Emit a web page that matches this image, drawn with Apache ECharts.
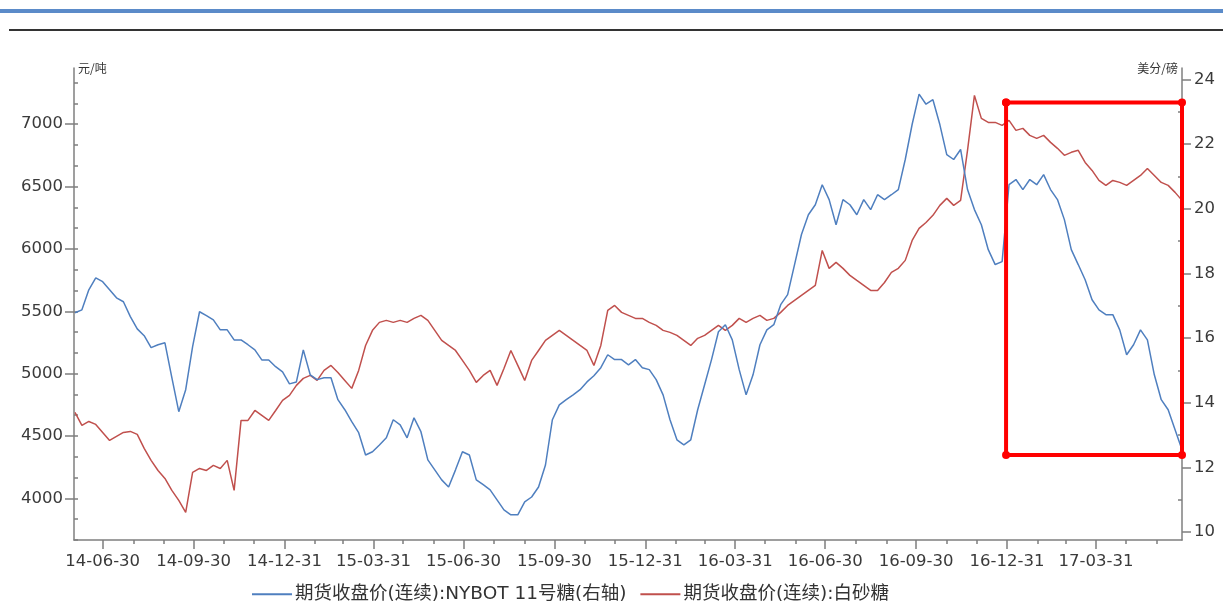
<!DOCTYPE html>
<html>
<head>
<meta charset="utf-8">
<script src="https://cdn.jsdelivr.net/npm/echarts@6/dist/echarts.min.js"></script>
<style>
  html, body { margin: 0; padding: 0; background: #fff; }
  #page { position: relative; width: 1223px; height: 609px; overflow: hidden; }
  #rule-top { position: absolute; left: 0; top: 9px; width: 1223px; height: 4px; background: #5b8bc9; }
  #rule-head { position: absolute; left: 9px; top: 29px; width: 1214px; height: 2px; background: #333; }
  #chart { position: absolute; left: 0; top: 0; width: 1223px; height: 609px; }
</style>
</head>
<body>
<div id="page">
  <div id="rule-top"></div>
  <div id="rule-head"></div>
  <div id="chart"></div>
</div>
<script>
// Weekly closes, first week starting 2014-06-02
const firstWeek = '2014-06-02';

// NYBOT No.11 sugar, US cents/lb (right axis)
const nybotSugar = [
  16.78,16.87,17.49,17.86,17.74,17.49,17.24,17.12,16.66,16.28,
  16.07,15.70,15.79,15.85,14.77,13.72,14.40,15.73,16.81,16.69,
  16.56,16.25,16.25,15.94,15.94,15.79,15.63,15.32,15.32,15.11,
  14.95,14.58,14.64,15.63,14.86,14.71,14.77,14.77,14.09,13.78,
  13.41,13.07,12.38,12.48,12.69,12.91,13.47,13.31,12.91,13.53,
  13.10,12.23,11.92,11.61,11.39,11.92,12.48,12.38,11.61,11.46,
  11.30,10.99,10.68,10.53,10.53,10.93,11.08,11.39,12.07,13.47,
  13.93,14.09,14.24,14.40,14.64,14.83,15.08,15.48,15.33,15.33,
  15.17,15.33,15.08,15.02,14.71,14.24,13.47,12.85,12.69,12.85,
  13.78,14.55,15.33,16.19,16.41,15.94,15.02,14.24,14.86,15.79,
  16.25,16.41,17.03,17.34,18.27,19.20,19.81,20.12,20.74,20.28,
  19.50,20.28,20.12,19.81,20.28,19.97,20.43,20.28,20.43,20.59,
  21.52,22.61,23.54,23.23,23.37,22.60,21.67,21.52,21.83,20.59,
  19.97,19.50,18.73,18.27,18.36,20.74,20.90,20.59,20.90,20.74,
  21.05,20.59,20.28,19.66,18.73,18.27,17.80,17.18,16.87,16.72,
  16.72,16.25,15.48,15.79,16.25,15.94,14.86,14.09,13.78,13.16,
  12.54
];

// Zhengzhou white sugar, CNY/t (left axis)
const whiteSugar = [
  4689,4585,4617,4593,4529,4465,4497,4529,4537,4513,
  4401,4305,4224,4160,4064,3984,3888,4208,4240,4224,
  4265,4240,4305,4064,4625,4625,4705,4665,4625,4705,
  4786,4826,4906,4962,4986,4946,5026,5066,5010,4946,
  4882,5026,5226,5347,5411,5427,5411,5427,5411,5443,
  5467,5427,5347,5267,5226,5186,5106,5026,4930,4986,
  5026,4906,5042,5186,5066,4946,5106,5186,5267,5307,
  5347,5307,5267,5226,5186,5066,5226,5507,5547,5491,
  5467,5443,5443,5411,5387,5347,5331,5307,5267,5226,
  5283,5307,5347,5387,5347,5387,5443,5411,5443,5467,
  5427,5443,5491,5547,5587,5627,5667,5707,5988,5844,
  5892,5844,5788,5747,5707,5667,5667,5731,5812,5844,
  5908,6068,6164,6212,6269,6349,6405,6349,6389,6790,
  7230,7046,7014,7014,6990,7030,6950,6966,6910,6886,
  6910,6854,6806,6750,6774,6790,6693,6629,6549,6509,
  6549,6533,6509,6549,6589,6645,6589,6533,6509,6453,
  6389
];

const seriesNames = ['期货收盘价(连续):NYBOT 11号糖(右轴)', '期货收盘价(连续):白砂糖'];
const axisNames = ['元/吨', '美分/磅'];
const leftTicks = [4000, 4500, 5000, 5500, 6000, 6500, 7000];
const rightTicks = [10, 12, 14, 16, 18, 20, 22, 24];
const timeRange = ['2014-06-01', '2017-06-26'];
// Highlighted window: dates and right-axis price span
const boxDates = ['2016-12-30', '2017-06-26'];
const boxPrices = [12.38, 23.28];

function utc(s) { const p = s.split('-').map(Number); return Date.UTC(p[0], p[1] - 1, p[2]); }
const DAY = 86400000;
const weekDates = nybotSugar.map((_, i) => utc(firstWeek) + i * 7 * DAY);

// month-end and quarter-end marks on the date axis
const monthEnds = [], quarterEnds = [];
for (let y = 2014, m = 6; ; ) {
  const t = Date.UTC(y, m, 0);
  if (t > utc(timeRange[1])) break;
  monthEnds.push(t);
  if (m % 3 === 0) quarterEnds.push(t);
  m++; if (m > 12) { m = 1; y++; }
}
const pad = n => String(n).padStart(2, '0');
const fmtDate = v => { const d = new Date(v); return pad(d.getUTCFullYear() % 100) + '-' + pad(d.getUTCMonth() + 1) + '-' + pad(d.getUTCDate()); };
const plainNum = v => String(Math.round(v));

const leftMin = 3666.67, leftMax = 7450, rightMin = 9.75, rightMax = 24.35;
const leftMinor = [];
for (let v = leftMin; v < leftMax; v += 500 / 3) leftMinor.push(Math.round(v * 100) / 100);
const rightMinor = [];
for (let v = 11; v < rightMax; v += 2) rightMinor.push(v);

const axisGray = '#7f7f7f';
const labelStyle = { color: '#3a3a3a', fontSize: 16.5, fontFamily: 'DejaVu Sans' };

const chart = echarts.init(document.getElementById('chart'), null, { renderer: 'canvas' });
chart.setOption({
  animation: false,
  backgroundColor: 'transparent',
  grid: { left: 74, right: 41, top: 68, bottom: 69, containLabel: false },
  legend: {
    left: 247, top: 580,
    itemWidth: 40, itemHeight: 2, itemGap: 14,
    icon: 'rect',
    textStyle: { color: '#333', fontSize: 18.5, fontFamily: 'DejaVu Sans, Noto Sans CJK SC', padding: [0, 0, 0, -2] },
    data: seriesNames
  },
  xAxis: [
    {
      type: 'value', min: utc(timeRange[0]), max: utc(timeRange[1]),
      axisLine: { show: true, lineStyle: { color: axisGray, width: 1.5 } },
      axisTick: { show: true, customValues: quarterEnds, length: 9, lineStyle: { color: axisGray, width: 1.5 } },
      axisLabel: { show: true, customValues: quarterEnds, formatter: fmtDate, margin: 13, ...labelStyle },
      splitLine: { show: false }
    },
    {
      type: 'value', min: utc(timeRange[0]), max: utc(timeRange[1]), position: 'bottom',
      axisLine: { show: false },
      axisTick: { show: true, customValues: monthEnds, length: 4, lineStyle: { color: axisGray, width: 1.5 } },
      axisLabel: { show: false },
      splitLine: { show: false }
    }
  ],
  yAxis: [
    {
      type: 'value', position: 'left', min: leftMin, max: leftMax,
      name: axisNames[0], nameLocation: 'end', nameGap: 0,
      nameTextStyle: { color: '#333', fontSize: 12, align: 'left', verticalAlign: 'middle', padding: [0, 0, 0, 4], fontFamily: 'Noto Sans CJK SC' },
      axisLine: { show: true, lineStyle: { color: axisGray, width: 1.5 } },
      axisTick: { show: true, customValues: leftTicks, length: 9, lineStyle: { color: axisGray, width: 1.5 } },
      axisLabel: { show: true, customValues: leftTicks, formatter: plainNum, margin: 11, ...labelStyle },
      splitLine: { show: false }
    },
    {
      type: 'value', position: 'left', min: leftMin, max: leftMax,
      axisLine: { show: false },
      axisTick: { show: true, inside: true, customValues: leftMinor, length: 4, lineStyle: { color: axisGray, width: 1.5 } },
      axisLabel: { show: false },
      splitLine: { show: false }
    },
    {
      type: 'value', position: 'right', min: rightMin, max: rightMax,
      name: axisNames[1], nameLocation: 'end', nameGap: 0,
      nameTextStyle: { color: '#333', fontSize: 12, align: 'right', verticalAlign: 'middle', padding: [0, 4, 0, 0], fontFamily: 'Noto Sans CJK SC' },
      axisLine: { show: true, lineStyle: { color: axisGray, width: 1.5 } },
      axisTick: { show: true, customValues: rightTicks, length: 9, lineStyle: { color: axisGray, width: 1.5 } },
      axisLabel: { show: true, customValues: rightTicks, formatter: plainNum, margin: 12, ...labelStyle },
      splitLine: { show: false }
    },
    {
      type: 'value', position: 'right', min: rightMin, max: rightMax,
      axisLine: { show: false },
      axisTick: { show: true, inside: true, customValues: rightMinor, length: 4, lineStyle: { color: axisGray, width: 1.5 } },
      axisLabel: { show: false },
      splitLine: { show: false }
    }
  ],
  series: [
    {
      name: seriesNames[0], type: 'line', yAxisIndex: 2,
      data: weekDates.map((t, i) => [t, nybotSugar[i]]),
      showSymbol: false, smooth: false,
      lineStyle: { color: '#4f7fbf', width: 1.5 },
      itemStyle: { color: '#4f7fbf' },
      z: 3
    },
    {
      name: seriesNames[1], type: 'line', yAxisIndex: 0,
      data: weekDates.map((t, i) => [t, whiteSugar[i]]),
      showSymbol: false, smooth: false,
      lineStyle: { color: '#c0504d', width: 1.5 },
      itemStyle: { color: '#c0504d' },
      z: 2
    },
    {
      name: 'window', type: 'line', yAxisIndex: 2,
      data: [
        [utc(boxDates[0]), boxPrices[1]],
        [utc(boxDates[1]), boxPrices[1]],
        [utc(boxDates[1]), boxPrices[0]],
        [utc(boxDates[0]), boxPrices[0]],
        [utc(boxDates[0]), boxPrices[1]]
      ],
      symbol: 'circle', symbolSize: 8, showSymbol: true,
      lineStyle: { color: '#ff0000', width: 4 },
      itemStyle: { color: '#ff0000' },
      silent: true, z: 5
    }
  ]
});
</script>
</body>
</html>
